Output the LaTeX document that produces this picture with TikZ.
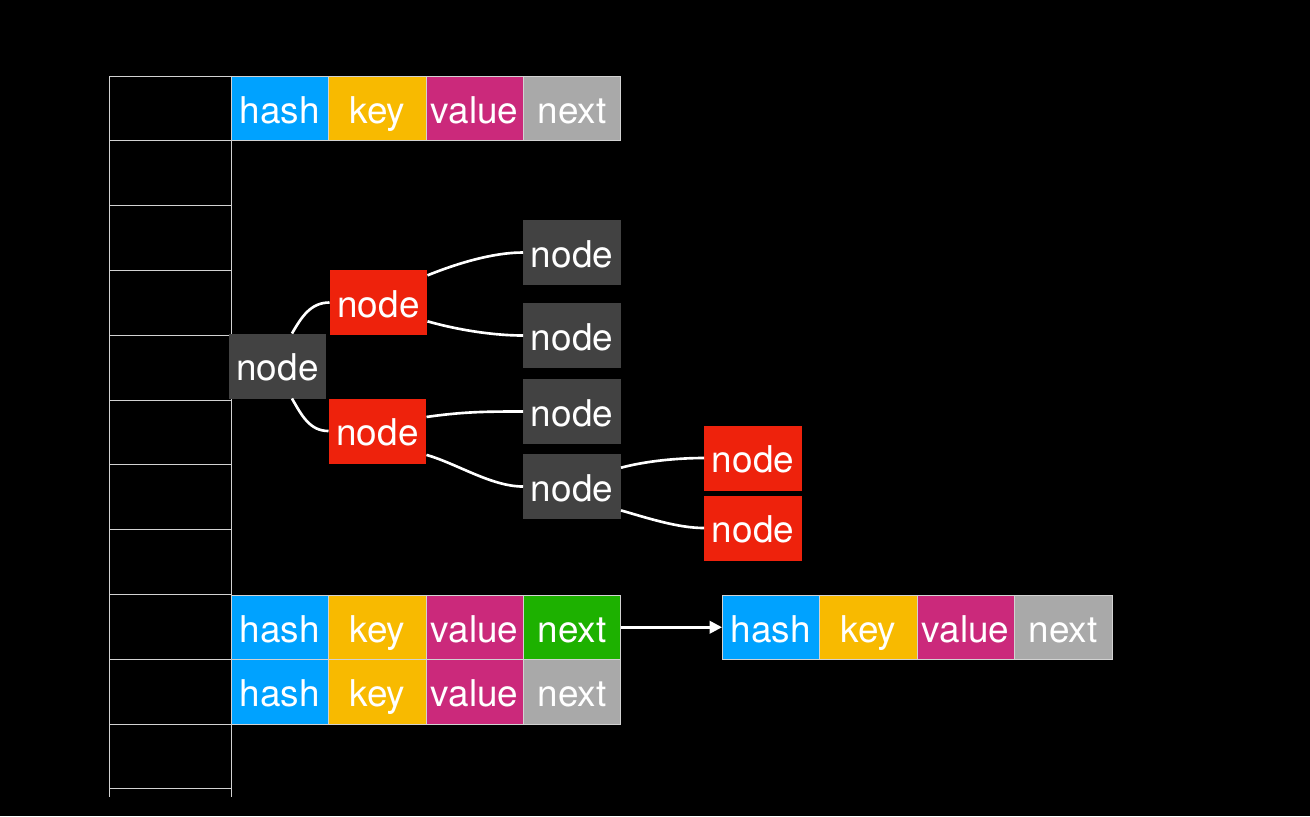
\documentclass[tikz,border=0pt]{standalone}
\usepackage{fontspec}
\setmainfont{TeX Gyre Heros}
\usetikzlibrary{positioning,arrows.meta}
\usepackage{xcolor}
\definecolor{hashblue}{RGB}{0,162,255}
\definecolor{keyyellow}{RGB}{248,186,0}
\definecolor{valuepink}{RGB}{203,41,123}
\definecolor{nextgray}{RGB}{169,169,169}
\definecolor{nextgreen}{RGB}{29,177,0}
\definecolor{nodered}{RGB}{238,34,12}
\definecolor{nodegray}{RGB}{66,66,66}
\definecolor{linegray}{RGB}{210,210,210}

\begin{document}
\begin{tikzpicture}[
    x=0.02cm, y=0.02cm,
    node distance=0pt,
    every node/.style={font=\fontsize{21}{25}\selectfont, text=white, inner sep=0pt, outer sep=0pt, text height=17.5pt, text depth=0.7pt},
    slot/.style={draw=linegray, line width=0.5pt, minimum width=2.44cm, minimum height=1.296cm},
    cell/.style={draw=linegray, line width=0.5pt, minimum width=1.95cm, minimum height=1.29cm},
    hashcell/.style={cell, fill=hashblue},
    keycell/.style={cell, fill=keyyellow},
    valuecell/.style={cell, fill=valuepink},
    nextcell/.style={cell, fill=nextgray},
    treecell/.style={minimum width=1.96cm, minimum height=1.3cm},
    rednode/.style={treecell, fill=nodered},
    graynode/.style={treecell, fill=nodegray},
    branch/.style={draw=white, line width=1.5pt},
    arrow/.style={draw=white, line width=1.5pt, -{Triangle[length=7pt,width=7pt]}}
]
\fill[black] (0,0) rectangle (1310,-816);

\foreach \i in {0,...,10}
    \node[slot, anchor=north west] (s\i) at (109,{-76-64.8*\i}) {};
\draw[linegray, line width=0.5pt] (s10.south west) -- ++(0,-8) (s10.south east) -- ++(0,-8);

\node[hashcell, anchor=north west] (h1) at (231,-76) {hash};
\node[keycell, right=of h1] (k1) {key};
\node[valuecell, right=of k1] (v1) {value};
\node[nextcell, right=of v1] (n1) {next};

\node[hashcell, anchor=north west] (h2) at (231,-595) {hash};
\node[keycell, right=of h2] (k2) {key};
\node[valuecell, right=of k2] (v2) {value};
\node[nextcell, fill=nextgreen, right=of v2] (n2) {next};

\node[hashcell, below=of h2] (h3) {hash};
\node[keycell, right=of h3] (k3) {key};
\node[valuecell, right=of k3] (v3) {value};
\node[nextcell, right=of v3] (n3) {next};

\node[hashcell, anchor=north west] (h4) at (722,-595) {hash};
\node[keycell, right=of h4] (k4) {key};
\node[valuecell, right=of k4] (v4) {value};
\node[nextcell, right=of v4] (n4) {next};

\draw[arrow] (n2.east) -- (h4.west);

\node[graynode] (root) at (277.5,-366) {node};
\node[rednode] (red1) at (378.5,-302.5) {node};
\node[rednode] (red2) at (377.5,-431) {node};
\node[graynode] (leaf1) at (572,-252.5) {node};
\node[graynode] (leaf2) at (572,-335.5) {node};
\node[graynode] (leaf3) at (572,-411.5) {node};
\node[graynode] (leaf4) at (572,-486.5) {node};
\node[rednode] (rleaf1) at (753,-458) {node};
\node[rednode] (rleaf2) at (753,-528) {node};

\draw[branch] (root.66) to[out=60,in=180] (red1.west);
\draw[branch] (root.-66) to[out=-60,in=180] (red2.west);
\draw[branch] (red1.29) to[out=22,in=180,looseness=0.8] (leaf1.west);
\draw[branch] (red1.-21) to[out=-16,in=180,looseness=0.8] (leaf2.west);
\draw[branch] (red2.16) to[out=8,in=180] (leaf3.west);
\draw[branch] (red2.-26) to[out=-16,in=180,looseness=0.8] (leaf4.west);
\draw[branch] (leaf4.21) to[out=15,in=180,looseness=0.8] (rleaf1.west);
\draw[branch] (leaf4.-26) to[out=-16,in=180,looseness=0.8] (rleaf2.west);
\end{tikzpicture}
\end{document}
